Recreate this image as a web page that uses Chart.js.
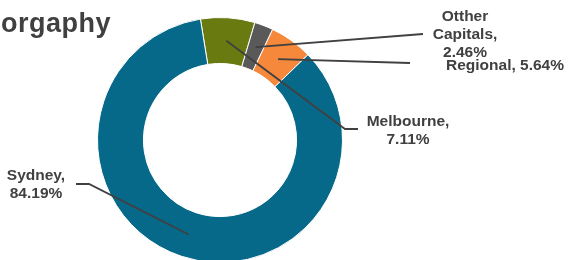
<!DOCTYPE html>
<html lang="en">
<head>
<meta charset="UTF-8">
<title>Geography</title>
<style>
    html, body { margin: 0; padding: 0; background: #fff; overflow: hidden; }
    .wrap { position: relative; width: 568px; height: 280px; }
</style>
</head>
<body>
<div class="wrap"><canvas id="myChart" width="568" height="280"></canvas></div>

<script src="https://cdn.jsdelivr.net/npm/chart.js@4/dist/chart.umd.min.js"></script>
<script>
    // data
    var titleText = 'Georgaphy';
    var regions = ['Melbourne', 'Otther Capitals', 'Regional', 'Sydney'];
    var shares = [7.11, 2.46, 5.64, 84.19];
    var sliceColors = ['#687a10', '#595959', '#f5883a', '#07698a'];

    // label placement: elbow of leader line, end of line, text lines and where they sit
    var labelLayout = [
        { elbow: [345, 129], end: [358, 129], lines: ['Melbourne,', '7.11%'], x: 408, y: 122 },
        { elbow: null, end: [423, 34], lines: ['Otther', 'Capitals,', '2.46%'], x: 465, y: 17 },
        { elbow: null, end: [410, 63], lines: ['Regional, 5.64%'], x: 505, y: 66 },
        { elbow: [89, 184], end: [76, 184], lines: ['Sydney,', '84.19%'], x: 36, y: 176 }
    ];

    var ink = '#404040';

    var titlePlugin = {
        id: 'titleText',
        afterDraw: function (chart) {
            var ctx = chart.ctx;
            ctx.save();
            ctx.font = 'bold 27px "Liberation Sans", Arial, sans-serif';
            ctx.letterSpacing = '0.5px';
            ctx.fillStyle = ink;
            ctx.textAlign = 'right';
            ctx.textBaseline = 'alphabetic';
            ctx.fillText(titleText, 111, 32);
            ctx.restore();
        }
    };

    var leaderPlugin = {
        id: 'leaders',
        afterDatasetsDraw: function (chart) {
            var ctx = chart.ctx;
            var arcs = chart.getDatasetMeta(0).data;
            ctx.save();
            arcs.forEach(function (arc, i) {
                var p = arc.getProps(['x', 'y', 'startAngle', 'endAngle', 'innerRadius', 'outerRadius'], true);
                var mid = (p.startAngle + p.endAngle) / 2;
                var r = (p.innerRadius + p.outerRadius) / 2;
                var sx = p.x + Math.cos(mid) * r;
                var sy = p.y + Math.sin(mid) * r;
                var lay = labelLayout[i];

                ctx.strokeStyle = ink;
                ctx.lineWidth = 1.8;
                ctx.beginPath();
                ctx.moveTo(sx, sy);
                if (lay.elbow) ctx.lineTo(lay.elbow[0], lay.elbow[1]);
                ctx.lineTo(lay.end[0], lay.end[1]);
                ctx.stroke();

                ctx.font = 'bold 15.5px "Liberation Sans", Arial, sans-serif';
                ctx.fillStyle = ink;
                ctx.textAlign = 'center';
                ctx.textBaseline = 'middle';
                lay.lines.forEach(function (t, k) {
                    ctx.fillText(t, lay.x, lay.y + k * 18);
                });
            });
            ctx.restore();
        }
    };

    new Chart(document.getElementById('myChart'), {
        type: 'doughnut',
        data: {
            labels: regions,
            datasets: [{
                data: shares,
                backgroundColor: sliceColors,
                borderColor: '#ffffff',
                borderWidth: 1
            }]
        },
        options: {
            responsive: false,
            animation: false,
            devicePixelRatio: 1,
            rotation: -9.2,
            cutout: '62.5%',
            layout: { padding: { left: 97, right: 225, top: 17, bottom: 17 } },
            plugins: {
                legend: { display: false },
                tooltip: { enabled: false },
                title: { display: false }
            }
        },
        plugins: [leaderPlugin, titlePlugin]
    });
</script>
</body>
</html>
